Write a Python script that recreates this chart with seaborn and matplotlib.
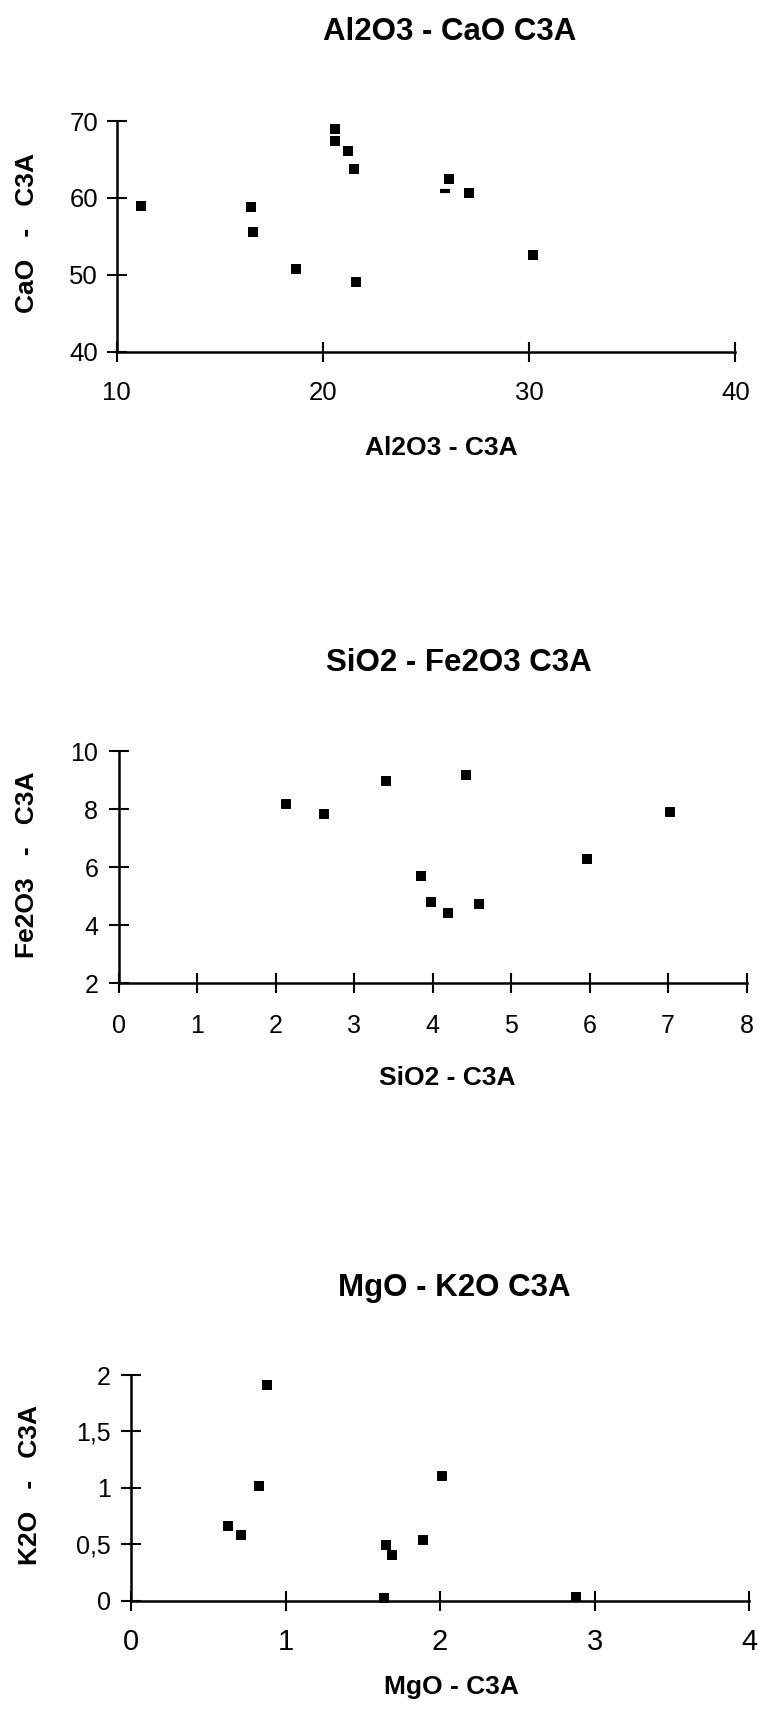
import matplotlib
matplotlib.use("Agg")
import matplotlib.pyplot as plt
import seaborn as sns

# data
al2o3 = [11.2, 16.5, 16.6, 18.7, 20.6, 20.6, 21.2, 21.5, 21.6, 26.1, 27.1, 30.2]
cao = [59.0, 58.8, 55.6, 50.7, 68.9, 67.4, 66.1, 63.8, 49.0, 62.5, 60.6, 52.6]
# half hidden marker just under the 26 / 62.5 point
al2o3_hidden = [25.9]
cao_hidden = [60.9]

sio2 = [2.13, 2.61, 3.41, 4.42, 7.02, 5.97, 3.85, 3.98, 4.19, 4.59]
fe2o3 = [8.17, 7.83, 8.96, 9.16, 7.89, 6.28, 5.69, 4.79, 4.42, 4.72]

mgo = [0.88, 0.83, 0.63, 0.71, 2.01, 1.89, 1.65, 1.69, 1.64, 2.88]
k2o = [1.91, 1.02, 0.66, 0.58, 1.10, 0.54, 0.49, 0.40, 0.02, 0.03]

ticks1_x = [10, 20, 30, 40]
ticks1_y = [40, 50, 60, 70]
ticks2_x = [0, 1, 2, 3, 4, 5, 6, 7, 8]
ticks2_y = [2, 4, 6, 8, 10]
ticks3_x = [0, 1, 2, 3, 4]
ticks3_y = [0, 0.5, 1, 1.5, 2]
labels3_y = ["0", "0,5", "1", "1,5", "2"]

sns.set_theme(style="white")
plt.rcParams["font.family"] = ["Liberation Sans", "DejaVu Sans"]
plt.rcParams["text.color"] = "black"
plt.rcParams["axes.labelcolor"] = "black"

fig = plt.figure(figsize=(7.59, 17.11), dpi=100)


def style_axes(ax, xt, yt, xfs, yfs, xpad, ypad):
    for s in ["top", "right"]:
        ax.spines[s].set_visible(False)
    for s in ["left", "bottom"]:
        ax.spines[s].set_linewidth(1.8)
        ax.spines[s].set_color("black")
    ax.set_xticks(xt)
    ax.set_yticks(yt)
    ax.tick_params(axis="both", direction="inout", length=14, width=1.5,
                   color="black", labelcolor="black", bottom=True, left=True)
    ax.tick_params(axis="x", labelsize=xfs, pad=xpad)
    ax.tick_params(axis="y", labelsize=yfs, pad=ypad)
    ax.grid(False)


def labels(ax, title, xlab, ylab, tpos, xpos, ypos):
    ax.set_title(title, fontsize=22.5, fontweight="bold", x=tpos[0], y=tpos[1],
                 va="center", ha="center", pad=0, color="black")
    ax.set_xlabel(xlab, fontsize=19, fontweight="bold", va="center")
    ax.xaxis.set_label_coords(*xpos)
    ax.set_ylabel(ylab, fontsize=19, fontweight="bold", va="center")
    ax.yaxis.set_label_coords(*ypos)


# --- Al2O3 - CaO
ax1 = fig.add_axes([0.15375, 0.79445, 0.81502, 0.13483])
sns.scatterplot(x=al2o3, y=cao, ax=ax1, marker="s", s=60, color="black",
                linewidth=0, clip_on=False)
sns.scatterplot(x=al2o3_hidden, y=cao_hidden, ax=ax1, marker="_", s=55,
                color="black", linewidth=3, clip_on=False)
ax1.set_xlim(10, 40)
ax1.set_ylim(40, 70)
style_axes(ax1, ticks1_x, ticks1_y, 18.5, 18.5, 14, 6.5)
labels(ax1, "Al2O3 - CaO C3A", "Al2O3 - C3A", "CaO   -   C3A",
       (0.5388, 1.3858), (0.5254, -0.4174), (-0.1455, 0.5145))

# --- SiO2 - Fe2O3
ax2 = fig.add_axes([0.15679, 0.42548, 0.82675, 0.13559])
sns.scatterplot(x=sio2, y=fe2o3, ax=ax2, marker="s", s=52, color="black",
                linewidth=0, clip_on=False)
ax2.set_xlim(0, 8)
ax2.set_ylim(2, 10)
style_axes(ax2, ticks2_x, ticks2_y, 18, 18, 15, 8)
labels(ax2, "SiO2 - Fe2O3 C3A", "SiO2 - C3A", "Fe2O3   -   C3A",
       (0.5412, 1.3793), (0.5238, -0.4095), (-0.1466, 0.5086))

# --- MgO - K2O
ax3 = fig.add_axes([0.17260, 0.06458, 0.81449, 0.13179])
sns.scatterplot(x=mgo, y=k2o, ax=ax3, marker="s", s=50, color="black",
                linewidth=0, clip_on=False, zorder=5)
ax3.set_xlim(0, 4)
ax3.set_ylim(0, 2)
style_axes(ax3, ticks3_x, ticks3_y, 21, 18, 12.5, 7.5)
ax3.set_yticklabels(labels3_y)
labels(ax3, "MgO - K2O C3A", "MgO - C3A", "K2O   -   C3A",
       (0.5233, 1.388), (0.5176, -0.3836), (-0.1634, 0.512))

fig.savefig("out.png", dpi=100, facecolor="white")
